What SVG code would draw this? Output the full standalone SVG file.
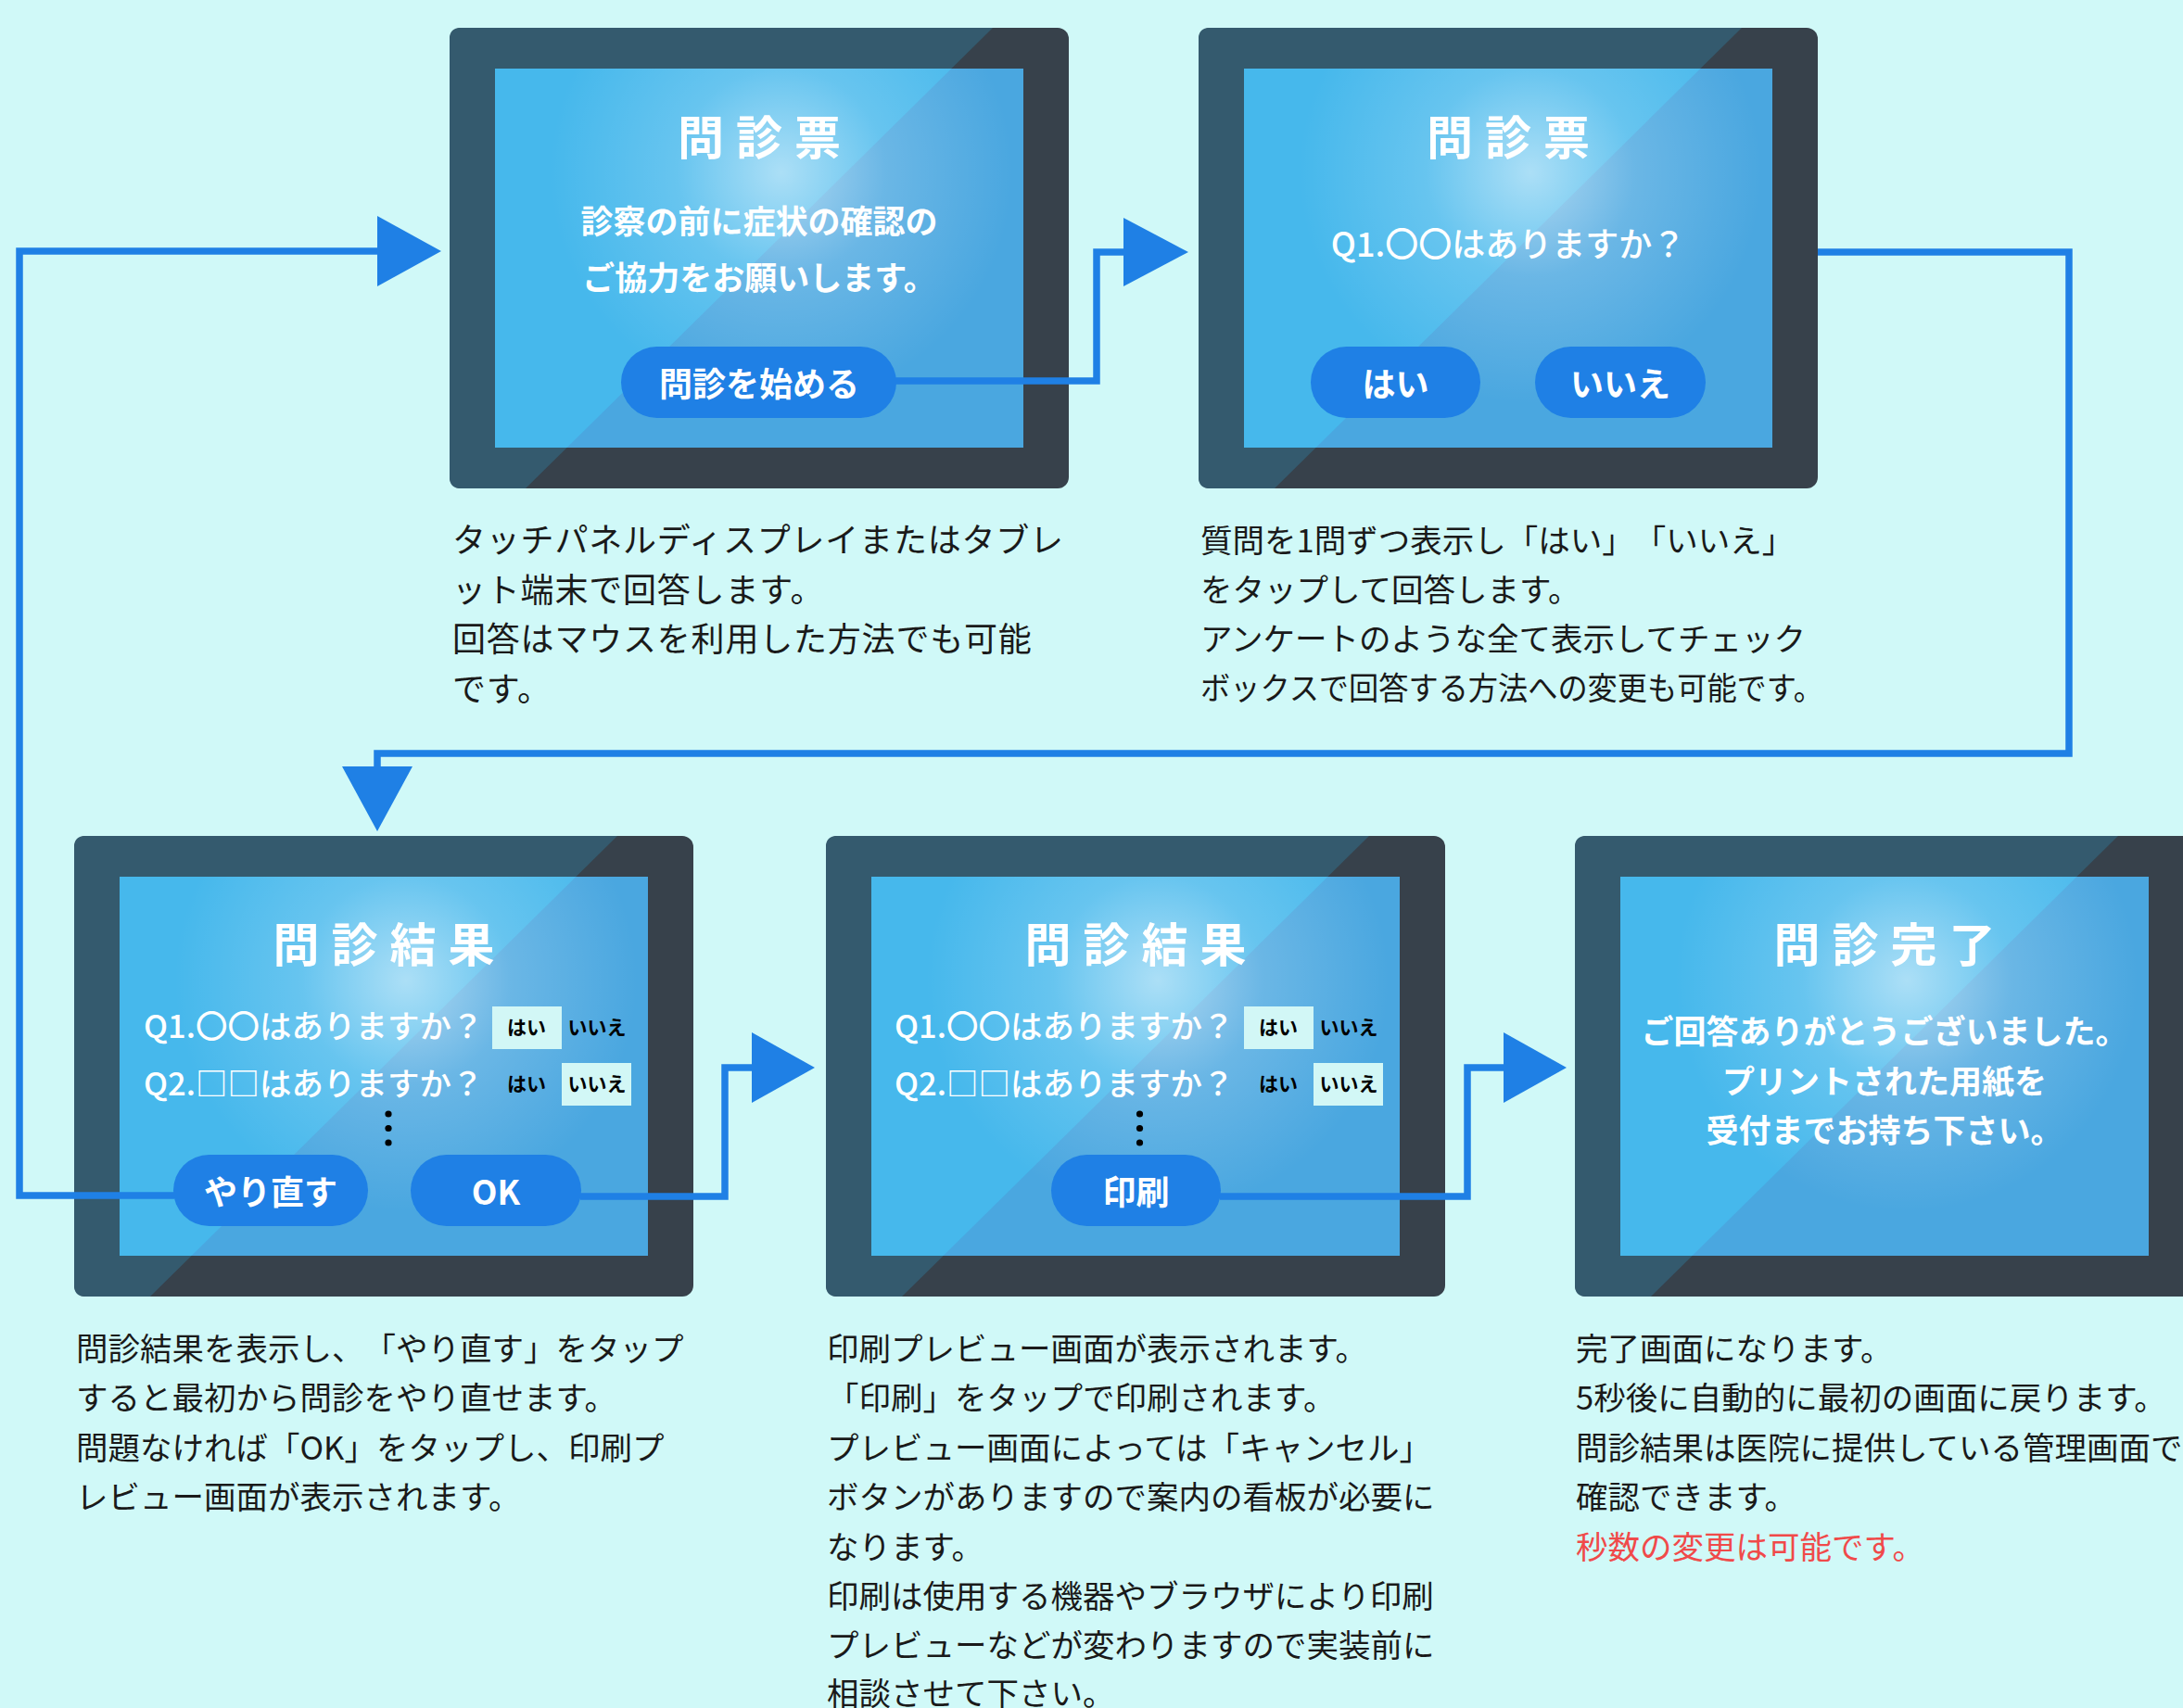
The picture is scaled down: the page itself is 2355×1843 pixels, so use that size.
<svg xmlns="http://www.w3.org/2000/svg" xmlns:xlink="http://www.w3.org/1999/xlink" width="2355" height="1843" viewBox="0 0 2355 1843">
<style>
text{font-family:"Noto Sans CJK JP","Noto Sans",sans-serif;text-spacing-trim:space-all;}
.title{fill:#fff;font-size:50px;font-weight:700;letter-spacing:13px;text-anchor:middle;}
.msg{fill:#fff;font-size:35px;font-weight:700;text-anchor:middle;}
.q{fill:#fff;font-size:34.5px;font-weight:500;}
.q2{fill:#fff;font-size:36px;font-weight:500;text-anchor:middle;}
.btn{fill:#1f80e5;}
.btxt{fill:#fff;font-size:36px;font-weight:700;text-anchor:middle;}
.small{fill:#000;font-size:21px;font-weight:700;text-anchor:middle;}
.box{fill:#d2f7f6;}
.desc{fill:#1a1a1a;font-size:34.5px;font-weight:400;}
.desc1{fill:#1a1a1a;font-size:36px;font-weight:400;letter-spacing:0.8px;}
.red{fill:#f04a4a;}
.conn{fill:none;stroke:#1f80e5;stroke-width:7.5;stroke-linejoin:miter;}
.arrow{fill:#1f80e5;}
</style>
<defs>
<radialGradient id="glow" gradientUnits="userSpaceOnUse" cx="358" cy="156" r="250">
<stop offset="0" stop-color="#ffffff" stop-opacity="0.55"/>
<stop offset="0.45" stop-color="#ffffff" stop-opacity="0.18"/>
<stop offset="1" stop-color="#ffffff" stop-opacity="0"/>
</radialGradient>
<g id="frame">
<rect x="0" y="0" width="668" height="497" rx="12" fill="#37414b"/>
<path d="M12,0 H586 L82,497 H12 Q0,497 0,485 V12 Q0,0 12,0 Z" fill="#345a6e"/>
<rect x="49" y="44" width="570" height="409" fill="#4aa7e0"/>
<polygon points="49,44 541.4,44 126.6,453 49,453" fill="#46b8ec"/>
<rect x="49" y="44" width="570" height="409" fill="url(#glow)"/>
</g>
</defs>
<rect width="2355" height="1843" fill="#d0f9f8"/>

<g id="node-start" transform="translate(485,30)">
<use href="#frame"/>
<text class="title" x="340.5" y="137">問診票</text>
<text class="msg" x="334" y="222">診察の前に症状の確認の</text>
<text class="msg" x="334" y="283">ご協力をお願いします。</text>
<rect class="btn" x="185" y="344" width="297" height="77" rx="38.5"/>
<text class="btxt" x="334" y="398">問診を始める</text>
</g>
<g id="desc-start">
<text class="desc1" x="488" y="596">タッチパネルディスプレイまたはタブレ</text>
<text class="desc1" x="488" y="650">ット端末で回答します。</text>
<text class="desc1" x="488" y="703">回答はマウスを利用した方法でも可能</text>
<text class="desc1" x="488" y="757">です。</text>
</g>

<g id="node-question" transform="translate(1293,30)">
<use href="#frame"/>
<text class="title" x="340.5" y="137">問診票</text>
<text class="q2" x="334" y="247">Q1.〇〇はありますか？</text>
<rect class="btn" x="121" y="344" width="183" height="77" rx="38.5"/>
<text class="btxt" x="212.5" y="398">はい</text>
<rect class="btn" x="363" y="344" width="184" height="77" rx="38.5"/>
<text class="btxt" x="455" y="398">いいえ</text>
</g>
<g id="desc-question">
<text class="desc" x="1295" y="596">質問を1問ずつ表示し「はい」「いいえ」</text>
<text class="desc" x="1295" y="649">をタップして回答します。</text>
<text class="desc" x="1295" y="702">アンケートのような全て表示してチェック</text>
<text class="desc" x="1295" y="755" textLength="672" lengthAdjust="spacingAndGlyphs">ボックスで回答する方法への変更も可能です。</text>
</g>

<g id="node-result" transform="translate(80,902)">
<use href="#frame"/>
<text class="title" x="340.5" y="136">問診結果</text>
<text class="q" x="75" y="218">Q1.〇〇はありますか？</text>
<text class="q" x="75" y="280">Q2.□□はありますか？</text>
<rect class="box" x="451" y="184" width="75" height="46"/>
<rect class="box" x="526" y="245" width="75" height="46"/>
<text class="small" x="488" y="214">はい</text>
<text class="small" x="564" y="214">いいえ</text>
<text class="small" x="488" y="275">はい</text>
<text class="small" x="564" y="275">いいえ</text>
<circle cx="339" cy="300" r="3.6" fill="#000"/>
<circle cx="339" cy="315.5" r="3.6" fill="#000"/>
<circle cx="339" cy="331" r="3.6" fill="#000"/>
<rect class="btn" x="107" y="344" width="210" height="77" rx="38.5"/>
<text class="btxt" x="212" y="398">やり直す</text>
<rect class="btn" x="363" y="344" width="184" height="77" rx="38.5"/>
<text class="btxt" x="455" y="398">OK</text>
</g>
<g id="desc-result">
<text class="desc" x="82" y="1468">問診結果を表示し、「やり直す」をタップ</text>
<text class="desc" x="82" y="1521">すると最初から問診をやり直せます。</text>
<text class="desc" x="82" y="1575">問題なければ「OK」をタップし、印刷プ</text>
<text class="desc" x="82" y="1628">レビュー画面が表示されます。</text>
</g>

<g id="node-print" transform="translate(891,902)">
<use href="#frame"/>
<text class="title" x="340.5" y="136">問診結果</text>
<text class="q" x="74" y="218">Q1.〇〇はありますか？</text>
<text class="q" x="74" y="280">Q2.□□はありますか？</text>
<rect class="box" x="451" y="184" width="75" height="46"/>
<rect class="box" x="526" y="245" width="75" height="46"/>
<text class="small" x="488" y="214">はい</text>
<text class="small" x="564" y="214">いいえ</text>
<text class="small" x="488" y="275">はい</text>
<text class="small" x="564" y="275">いいえ</text>
<circle cx="338.5" cy="300" r="3.6" fill="#000"/>
<circle cx="338.5" cy="315.5" r="3.6" fill="#000"/>
<circle cx="338.5" cy="331" r="3.6" fill="#000"/>
<rect class="btn" x="243" y="344" width="183" height="77" rx="38.5"/>
<text class="btxt" x="334.5" y="398">印刷</text>
</g>
<g id="desc-print">
<text class="desc" x="892" y="1468">印刷プレビュー画面が表示されます。</text>
<text class="desc" x="892" y="1521">「印刷」をタップで印刷されます。</text>
<text class="desc" x="892" y="1575">プレビュー画面によっては「キャンセル」</text>
<text class="desc" x="892" y="1628">ボタンがありますので案内の看板が必要に</text>
<text class="desc" x="892" y="1682">なります。</text>
<text class="desc" x="892" y="1735">印刷は使用する機器やブラウザにより印刷</text>
<text class="desc" x="892" y="1788">プレビューなどが変わりますので実装前に</text>
<text class="desc" x="892" y="1840">相談させて下さい。</text>
</g>

<g id="node-complete" transform="translate(1699,902)">
<use href="#frame"/>
<text class="title" x="340.5" y="136">問診完了</text>
<text class="msg" x="334" y="224">ご回答ありがとうございました。</text>
<text class="msg" x="334" y="278">プリントされた用紙を</text>
<text class="msg" x="334" y="331">受付までお持ち下さい。</text>
</g>
<g id="desc-complete">
<text class="desc" x="1700" y="1468">完了画面になります。</text>
<text class="desc" x="1700" y="1521">5秒後に自動的に最初の画面に戻ります。</text>
<text class="desc" x="1700" y="1575">問診結果は医院に提供している管理画面で</text>
<text class="desc" x="1700" y="1628">確認できます。</text>
<text class="desc red" x="1700" y="1682">秒数の変更は可能です。</text>
</g>

<g id="connectors">
<path class="conn" d="M188,1290 H21 V271 H412"/>
<polygon class="arrow" points="407,233 476,271 407,309"/>
<path class="conn" d="M966,411 H1183 V272 H1216"/>
<polygon class="arrow" points="1212,235 1282,272 1212,309"/>
<path class="conn" d="M1961,272 H2232 V813 H407 V832"/>
<polygon class="arrow" points="369,827 445,827 407,897"/>
<path class="conn" d="M626,1291 H782 V1152 H815"/>
<polygon class="arrow" points="811,1114 879,1152 811,1190"/>
<path class="conn" d="M1316,1291 H1583 V1152 H1626"/>
<polygon class="arrow" points="1622,1114 1690,1152 1622,1190"/>
</g>
</svg>
